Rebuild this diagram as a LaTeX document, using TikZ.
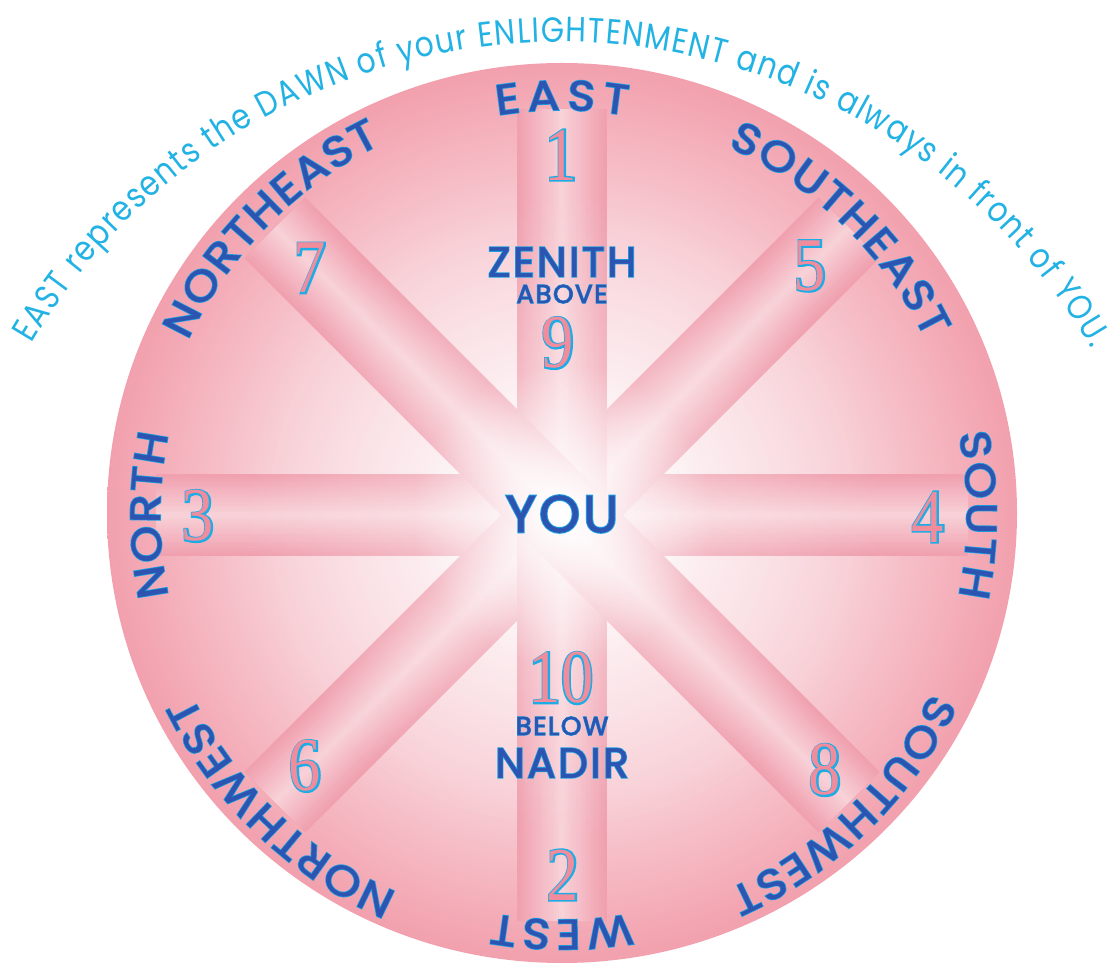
\documentclass[tikz,border=0pt]{standalone}
\usepackage{fontspec}
\usetikzlibrary{decorations.text,fadings}
\newfontfamily\arcfnt[FakeStretch=0.85]{Poppins}
\newfontfamily\lblfnt[FakeBold=1.2,FakeStretch=1.12]{Poppins}
\newfontfamily\lblofnt[FakeBold=5,FakeStretch=1.12]{Poppins}
\newfontfamily\ctrfnt[FakeBold=1.2,LetterSpace=6]{Poppins}
\newfontfamily\ctrofnt[FakeBold=5,LetterSpace=6]{Poppins}
\newfontfamily\numfnt[FakeStretch=0.85]{Liberation Serif}
\newfontfamily\numofnt[FakeStretch=0.85,FakeBold=4]{Liberation Serif}
\definecolor{discin}{RGB}{253,243,245}
\definecolor{discmid}{RGB}{248,206,213}
\definecolor{discout}{RGB}{242,160,173}
\definecolor{bandedge}{RGB}{240,160,175}
\definecolor{bandmid}{RGB}{248,208,215}
\definecolor{arccyan}{RGB}{35,178,228}
\definecolor{lblblue}{RGB}{44,84,176}
\definecolor{lblcyan}{RGB}{28,160,226}
\definecolor{numpink}{RGB}{240,140,156}
\definecolor{numcyan}{RGB}{30,172,230}
\pgfdeclareradialshading{discshade}{\pgfpoint{0bp}{0bp}}{color(0bp)=(discin); color(4bp)=(discin); color(16bp)=(discmid); color(25bp)=(discout); color(50bp)=(discout)}
\tikzfading[name=glowfade, inner color=transparent!0, outer color=transparent!100]
\tikzfading[name=wideglow, inner color=transparent!50, outer color=transparent!100]
\tikzset{
  lblo/.style={decorate, decoration={text along path, text={|\color{lblcyan}\lblofnt\fontsize{42}{42}\selectfont|#1}, text align={fit to path}}},
  lblf/.style={decorate, decoration={text along path, text={|\color{lblblue}\lblfnt\fontsize{42}{42}\selectfont|#1}, text align={fit to path}}},
  numo/.style={inner sep=0pt, text=numcyan, font=\numofnt\fontsize{76}{76}\selectfont},
  numf/.style={inner sep=0pt, text=numpink, font=\numfnt\fontsize{76}{76}\selectfont},
  ctro/.style={inner sep=0pt, text=lblcyan, font=\ctrofnt\fontsize{#1}{#1}\selectfont},
  ctrf/.style={inner sep=0pt, text=lblblue, font=\ctrfnt\fontsize{#1}{#1}\selectfont},
}
\newcommand\rimlabel[4]{%
  \path[lblo={#1}] (#2+#3:#4) arc[start angle=#2+#3, end angle=#2-#3, radius=#4];
  \path[lblf={#1}] (#2+#3:#4) arc[start angle=#2+#3, end angle=#2-#3, radius=#4];}
\newcommand\pinknum[3]{%
  \node[numo] (#1o) at (#2) {#3};
  \node[numf] (#1) at (#2) {#3};}
\newcommand\ctrlabel[4]{%
  \node[ctro=#4] (#1o) at (#2) {#3};
  \node[ctrf=#4] (#1) at (#2) {#3};}
\begin{document}
\begin{tikzpicture}[x=1pt,y=1pt]
\useasboundingbox (0,0) rectangle (1115,966);
% disc
\shade[shading=discshade] (562,453) ellipse [x radius=455, y radius=450];
\coordinate (C) at (562,451);
\begin{scope}[shift={(C)}]
  % bands
  \foreach \a/\w in {0/82,45/86,90/90,135/86}{
    \foreach \k [evaluate=\k as \p using {int(\k*100/15)}] in {0,...,15}{
      \draw[line cap=butt, line width={\w*(1-\k/16)}, color=bandmid!\p!bandedge] (\a+180:406) -- (\a:406);
    }
  }
  % glows
  \fill[white, path fading=wideglow] (0,0) circle (320);
  \fill[white, path fading=glowfade] (0,0) circle (150);
  % rim labels
  \rimlabel{EAST}{90}{9.2}{405}
  \rimlabel{SOUTHEAST}{45.8}{20}{404}
  \rimlabel{SOUTH}{0}{11.6}{405}
  \rimlabel{SOUTHWEST}{-45.9}{20.2}{410}
  \rimlabel{WEST}{-90}{9.8}{405}
  \rimlabel{NORTHWEST}{-133.8}{20.2}{412}
  \rimlabel{NORTH}{180}{11.6}{402}
  \rimlabel{NORTHEAST}{135.5}{19.5}{413}
\end{scope}
% centre labels
\ctrlabel{zenith}{562,704}{ZENITH}{42}
\ctrlabel{above}{562,672}{ABOVE}{26}
\ctrlabel{you}{562,452}{YOU}{52}
\ctrlabel{below}{562,240}{BELOW}{26}
\ctrlabel{nadir}{562,203}{NADIR}{42}
% numbers
\pinknum{one}{561,811}{1}
\pinknum{nine}{558,623}{9}
\pinknum{ten}{561,288}{10}
\pinknum{two}{563,91}{2}
\pinknum{three}{198,450}{3}
\pinknum{four}{928,449}{4}
\pinknum{seven}{310,698}{7}
\pinknum{five}{810,700}{5}
\pinknum{six}{305,200}{6}
\pinknum{eight}{825,196}{8}
% arc text
\coordinate (T) at (560,311);
\path[decorate, decoration={text along path, text={|\color{arccyan}\arcfnt\fontsize{35}{35}\selectfont|EAST represents the DAWN of your ENLIGHTENMENT and is always in front of YOU.}, text align={fit to path}}] ([shift={(149.5:613)}]T) arc[start angle=149.5, end angle=30, radius=613];
\end{tikzpicture}
\end{document}
